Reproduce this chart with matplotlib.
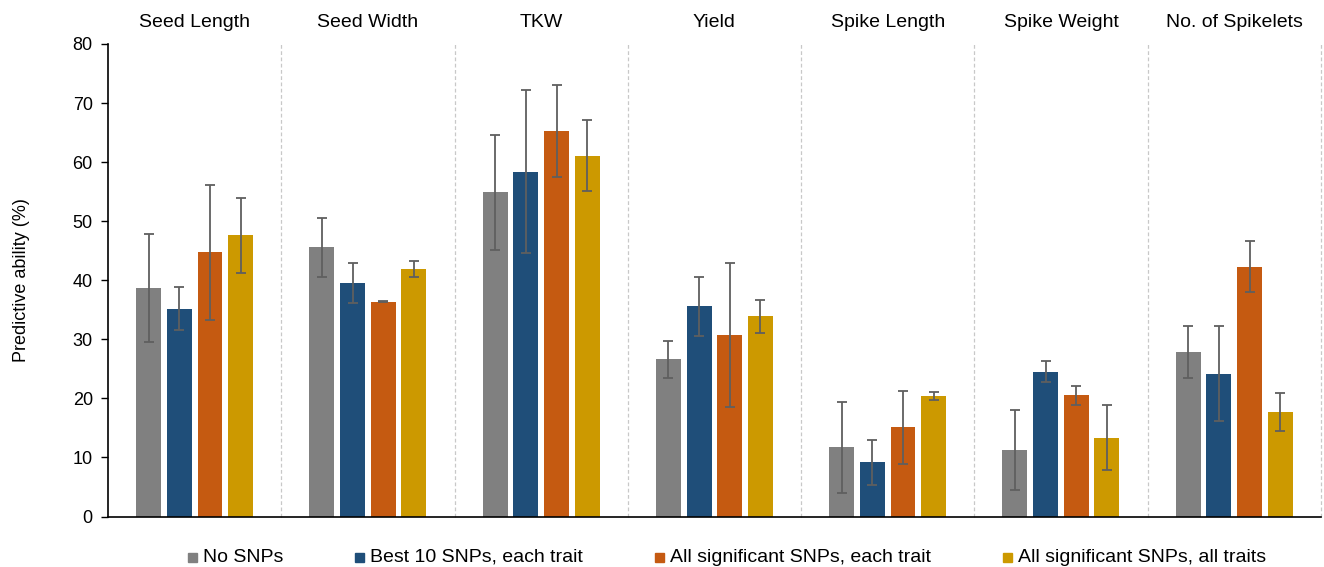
import numpy as np
import matplotlib
matplotlib.use('Agg')
import matplotlib.pyplot as plt
from matplotlib.patches import Rectangle

plt.rcParams['font.family'] = ['Liberation Sans', 'DejaVu Sans']

# traits and marker-set scenarios
traits = ['Seed Length', 'Seed Width', 'TKW', 'Yield', 'Spike Length', 'Spike Weight', 'No. of Spikelets']
series = ['No SNPs', 'Best 10 SNPs, each trait', 'All significant SNPs, each trait', 'All significant SNPs, all traits']

# predictive ability (%) per scenario, one value per trait
no_snps = [38.7, 45.6, 54.9, 26.6, 11.7, 11.3, 27.9]
best10 = [35.2, 39.5, 58.4, 35.6, 9.2, 24.5, 24.2]
all_sig_each = [44.7, 36.4, 65.3, 30.7, 15.1, 20.5, 42.3]
all_sig_all = [47.6, 41.9, 61.1, 33.9, 20.4, 13.3, 17.7]

# error bar half-widths
no_snps_err = [9.1, 5.0, 9.7, 3.1, 7.7, 6.8, 4.4]
best10_err = [3.7, 3.4, 13.8, 5.0, 3.8, 1.8, 8.1]
all_sig_each_err = [11.5, 0.1, 7.8, 12.2, 6.2, 1.6, 4.3]
all_sig_all_err = [6.3, 1.3, 6.0, 2.8, 0.7, 5.5, 3.2]

values = [no_snps, best10, all_sig_each, all_sig_all]
errors = [no_snps_err, best10_err, all_sig_each_err, all_sig_all_err]
colors = ['#808080', '#1F4E79', '#C55A11', '#CC9900']

W, H = 1324, 567
fig = plt.figure(figsize=(W / 100, H / 100), dpi=100)
ax = fig.add_axes([0.0816, 0.089, 0.916, 0.8335])

x = np.arange(len(traits)) + 0.5
step = 0.177
width = 0.144
for i, (vals, errs, col) in enumerate(zip(values, errors, colors)):
    pos = x + (i - 1.5) * step
    ax.bar(pos, vals, width=width, color=col, zorder=2)
    ax.errorbar(pos, vals, yerr=errs, fmt='none', ecolor='#5f5f5f',
                elinewidth=1.3, capsize=3.5, capthick=1.3, zorder=3)

# dashed separators between traits
for k in range(1, len(traits) + 1):
    ax.axvline(k, color='#c8c8c8', linestyle=(0, (3, 2)), linewidth=0.9,
               zorder=1, clip_on=False)

for xi, name in zip(x, traits):
    ax.text(xi, 1.045, name, transform=ax.get_xaxis_transform(),
            ha='center', va='center', fontsize=14)

ax.set_xlim(0, len(traits))
ax.set_ylim(0, 80)
ax.set_yticks(np.arange(0, 81, 10))
ax.set_xticks([])
ax.tick_params(axis='y', labelsize=13, length=5, width=1, direction='out', pad=6)
ax.set_ylabel('Predictive ability (%)', fontsize=13)
ax.yaxis.set_label_coords(-0.064, 0.5)
for side in ['top', 'right']:
    ax.spines[side].set_visible(False)
ax.spines['left'].set_linewidth(1.2)
ax.spines['bottom'].set_linewidth(1.2)

# legend row along one baseline: swatch, label, gap
renderer = fig.canvas.get_renderer()
xpix, base, sq = 188, H - 562, 9
for label, col in zip(series, colors):
    fig.patches.append(Rectangle((xpix / W, base / H), sq / W, sq / H,
                                 transform=fig.transFigure, color=col))
    t = fig.text((xpix + sq + 6) / W, base / H, label, fontsize=14, va='baseline')
    xpix += sq + 6 + t.get_window_extent(renderer).width + 72

fig.savefig('out.png', dpi=100)
